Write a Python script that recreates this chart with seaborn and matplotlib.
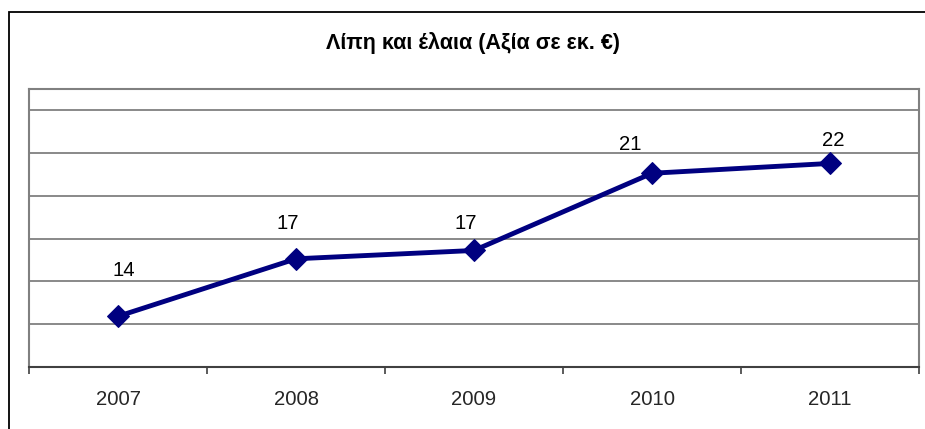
import matplotlib
matplotlib.use("Agg")
import matplotlib.pyplot as plt
import seaborn as sns
import pandas as pd
from matplotlib.patches import Rectangle
from matplotlib.ticker import FixedLocator

years = ["2007", "2008", "2009", "2010", "2011"]
values = [14.37, 17.06, 17.45, 21.06, 21.52]
labels = ["14", "17", "17", "21", "22"]
title = "Λίπη και έλαια (Αξία σε εκ. €)"

sns.set_theme(style="white")
plt.rcParams["font.family"] = ["Liberation Sans", "DejaVu Sans"]

fig = plt.figure(figsize=(9.25, 4.29), dpi=100)
fig.patch.set_facecolor("white")

# outer chart border (clipped on right and bottom as in the reference)
fig.patches.append(Rectangle((9 / 925, -0.05), 1.2, (429 - 12) / 429 + 0.05,
                             transform=fig.transFigure, fill=False,
                             edgecolor="black", linewidth=1.3))

ax = fig.add_axes([29 / 925, 62 / 429, 890 / 925, 278 / 429])

df = pd.DataFrame({"pos": range(len(years)), "value": values})
sns.lineplot(data=df, x="pos", y="value", ax=ax, color="#000080",
             linewidth=3.5, marker="D", markersize=11,
             markeredgecolor="#000080", markerfacecolor="#000080")

ax.set_xlim(-0.5, len(years) - 0.5)
ax.set_ylim(12, 25)
ax.set_xlabel("")
ax.set_ylabel("")

# grid
for g in [14, 16, 18, 20, 22, 24]:
    ax.axhline(g, color="#808080", linewidth=1.3, zorder=0)

ax.set_yticks([])
ax.set_xticks(range(len(years)))
ax.set_xticklabels(years, fontsize=14.6)
ax.xaxis.set_minor_locator(FixedLocator([i - 0.5 for i in range(len(years) + 1)]))
ax.tick_params(axis="x", which="major", length=0, pad=16.5)
ax.tick_params(axis="x", which="minor", length=5, width=1.2, color="#404040",
               direction="out", bottom=True)

for side in ["left", "right", "top"]:
    ax.spines[side].set_color("#808080")
    ax.spines[side].set_linewidth(1.5)
ax.spines["bottom"].set_color("#404040")
ax.spines["bottom"].set_linewidth(1.5)

offsets = [(6, 46), (-8, 35), (-8, 27), (-22, 29), (3, 23)]
for i, (v, lab) in enumerate(zip(values, labels)):
    ax.annotate(lab, (i, v), xytext=offsets[i], textcoords="offset pixels",
                ha="center", va="center", fontsize=14.6, color="black")

fig.text(473.5 / 925, 1 - 42.5 / 429, title, ha="center", va="center",
         fontsize=15.5, fontweight="bold", color="black")

fig.savefig("out.png", dpi=100)
